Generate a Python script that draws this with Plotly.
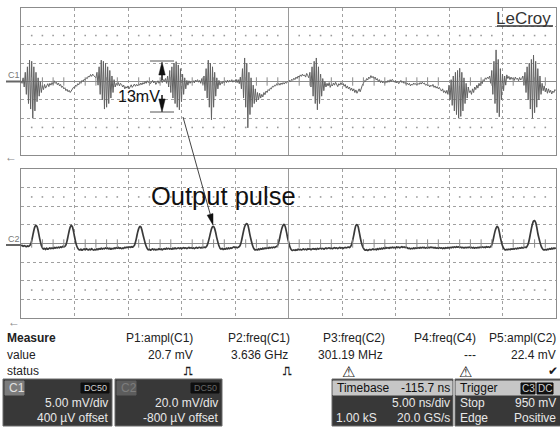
import plotly.graph_objects as go

# ---------------- data ----------------
SAMPLE_NS = 0.1  # display samples, 5 ns/div x 10 div

# C1 trace, mV (5 mV/div)
C1_MV = [
    0.2, -0.5, 1.0, -1.5, 2.5, -3.5, 4.0, -6.0, 5.8, -7.5,
    5.5, -10.0, 4.0, -8.0, 2.5, -5.5, 1.0, -4.0, 0.0, -3.0,
    -1.0, -2.2, -0.8, -1.8, -1.2, -0.6, -1.4, -0.5, -1.0, -0.3,
    -0.8, 0.2, -0.5, -0.2, -0.9, -0.4, -1.2, -0.8, -1.6, -1.3,
    -2.0, -1.7, -2.5, -2.1, -2.8, -2.4, -3.0, -2.6, -2.2, -1.6,
    -1.8, -1.0, -1.3, -0.6, -0.9, -0.2, -0.5, 0.3, 0.0, 0.6,
    0.4, 1.0, 0.8, 1.5, 1.2, 1.9, 1.4, 2.0, 1.6, 1.2,
    1.0, 2.5, -1.0, 4.0, -3.5, 5.8, -5.0, 5.5, -7.5, 5.0,
    -7.0, 4.0, -6.0, 3.0, -4.5, 1.5, -3.0, 0.5, -1.5, -0.5,
    -1.0, -0.3, -1.2, -0.5, -0.8, -1.5, -1.0, -2.0, -1.4, -1.8,
    -1.2, -2.0, -1.5, -0.9, -1.6, -1.1, -0.7, -1.3, -0.8, -1.2,
    -0.6, -1.0, -0.4, -0.9, -0.3, -0.7, 0.0, -0.5, 0.2, -0.3,
    0.0, -0.6, -0.2, 0.3, -0.4, 0.1, -0.8, -0.3, 0.2, -0.5,
    0.0, 0.4, -0.3, 0.5, 0.0, 0.8, -0.5, 1.5, -1.5, 3.0,
    -3.0, 4.0, -4.5, 5.0, -6.0, 5.4, -7.0, 4.5, -7.7, 3.5,
    -5.5, 2.0, -3.5, 1.0, -2.0, 0.3, -1.0, 0.2, -0.5, 0.0,
    -0.3, 0.2, -0.4, 0.4, 0.0, 0.5, -0.2, 0.3, -0.5, 0.8,
    -0.8, 1.5, -2.5, 3.5, -4.5, 5.8, -7.0, 5.0, -10.4, 4.0,
    -7.0, 2.5, -4.0, 1.0, -2.0, 0.3, -1.0, -0.2, -0.6, 0.1,
    -0.4, 0.2, -0.3, 0.4, -0.2, 0.3, 0.0, 0.5, -0.2, 0.3,
    0.0, 0.6, -0.3, 0.5, -0.6, 1.2, -2.0, 3.5, -4.5, 6.4,
    -7.0, 5.0, -12.6, 2.5, -9.0, 1.0, -7.0, -1.0, -6.0, -2.0,
    -5.5, -3.0, -5.0, -3.2, -4.5, -3.5, -4.2, -3.0, -3.6, -2.6,
    -3.0, -2.2, -2.5, -1.8, -2.0, -1.3, -1.5, -1.0, -1.2, -0.6,
    -0.9, -0.5, -1.0, -0.4, -0.8, -0.3, -0.7, -0.2, -0.5, 0.0,
    -0.3, 0.3, 0.0, 0.6, 0.3, 0.9, 0.5, 1.2, 0.8, 1.5,
    1.1, 1.8, 1.4, 2.0, 1.5, 1.8, 1.2, 2.2, 1.6, 1.0,
    2.5, -1.5, 4.0, -4.0, 5.5, -6.0, 6.4, -7.7, 4.0, -6.0,
    2.0, -4.0, 0.8, -2.5, 0.0, -1.5, -0.5, -1.2, -0.3, -1.6,
    -0.8, -1.2, -0.4, -1.0, -0.2, -0.8, -1.4, -0.6, -1.0, -0.3,
    -0.9, -0.5, -1.3, -0.8, -1.8, -1.2, -2.0, -1.5, -2.4, -1.8,
    -2.6, -2.0, -3.0, -2.3, -3.2, -2.6, -2.0, -2.8, -1.5, -1.0,
    -0.5, 0.2, 0.0, 0.8, 0.4, 1.2, 0.8, 1.6, 1.0, 1.4,
    0.8, 1.2, 0.4, 0.8, 0.0, 0.5, -0.3, 0.2, -0.4, 0.0,
    -0.5, 0.1, -0.3, 0.3, -0.2, 0.5, 0.0, 0.6, 0.2, -0.2,
    0.2, -0.4, 0.0, -0.6, -0.2, 0.3, -0.3, 0.0, -0.5, -0.2,
    -0.8, -0.4, -0.9, -0.5, -1.2, -0.7, -1.0, -0.4, -0.8, -0.6,
    -1.0, -0.5, -0.8, -0.3, -0.7, -0.2, -0.6, -0.4, -1.0, -0.8,
    -1.2, -0.9, -1.5, -1.0, -1.3, -0.8, -1.6, -1.2, -1.8, -1.4,
    -2.0, -1.6, -2.2, -2.6, -2.0, -3.0, -2.5, -3.2, -2.4, -3.5,
    -1.0, -5.0, 0.5, -6.5, 1.5, -8.0, 2.5, -9.0, 3.0, -10.0,
    3.6, -9.5, 2.5, -8.0, 1.0, -6.0, -0.5, -4.5, -1.5, -3.0,
    -2.5, -3.5, -2.0, -3.0, -1.5, -2.2, -1.0, -1.8, -0.5, -1.2,
    0.0, -0.6, 0.5, 0.2, 1.0, 0.6, 1.2, 0.8, 1.5, -0.5,
    3.0, -3.5, 5.5, -6.0, 8.6, -8.5, 6.0, -9.6, 3.5, -5.0,
    2.0, -2.5, 1.5, -1.0, 1.8, 0.8, 1.4, 0.5, 1.2, 0.6,
    1.0, 0.3, 1.2, 0.6, 0.9, 0.2, 1.1, 0.4, 0.8, 1.5,
    -1.0, 2.5, -3.0, 4.0, -5.0, 5.0, -7.5, 6.0, -10.0, 7.2,
    -8.5, 5.5, -7.0, 3.5, -5.0, 1.5, -3.5, -0.5, -2.5, -1.2,
    -2.8, -1.8, -3.2, -2.0, -3.0, -2.4, -3.4, -2.6, -3.0, -2.2,
    -2.5,
]

# C2 trace, mV (20 mV/div)
C2_MV = [
    -2.5, -2.0, -3.0, -2.2, -2.8, -3.5, -2.6, -3.2, -2.4, -1.0,
    3.0, 8.5, 14.0, 18.0, 19.4, 18.2, 14.0, 8.0, 2.5, -2.0,
    -4.5, -6.0, -5.2, -6.5, -5.0, -6.2, -5.5, -4.8, -5.6, -4.6,
    -5.4, -4.2, -5.0, -4.0, -4.8, -3.8, -4.6, -3.5, -4.2, -3.0,
    -3.6, -3.0, -1.5, 2.5, 8.0, 13.5, 17.5, 19.4, 18.0, 13.5,
    7.5, 2.0, -2.5, -5.0, -6.5, -7.0, -6.0, -7.2, -6.5, -5.8,
    -6.8, -5.5, -6.4, -7.0, -6.0, -6.8, -5.6, -6.6, -7.2, -6.2,
    -6.9, -5.8, -6.6, -5.4, -6.2, -5.0, -6.0, -5.2, -5.8, -4.6,
    -5.4, -4.8, -5.8, -5.0, -6.2, -5.2, -5.8, -4.8, -5.4, -4.4,
    -5.0, -4.2, -5.2, -4.6, -5.6, -4.8, -5.2, -4.0, -4.6, -3.8,
    -4.4, -3.6, -4.2, -3.4, -4.0, -3.2, -2.0, 1.5, 6.5, 12.0,
    16.0, 18.3, 17.8, 14.5, 9.5, 5.0, 0.5, -3.0, -5.5, -6.8,
    -6.0, -7.2, -6.4, -5.8, -6.8, -6.0, -7.0, -6.2, -6.6, -5.6,
    -6.4, -5.8, -6.8, -6.0, -5.4, -6.2, -5.0, -5.8, -5.2, -6.0,
    -5.4, -6.2, -5.0, -5.8, -4.8, -5.6, -5.2, -4.6, -5.4, -4.8,
    -5.6, -5.0, -4.4, -5.2, -4.6, -5.4, -4.8, -4.2, -5.0, -4.4,
    -5.2, -4.6, -5.4, -4.8, -4.2, -5.0, -4.4, -4.0, -4.8, -4.2,
    -4.6, -3.8, -4.4, -3.6, -2.0, 1.5, 6.0, 11.0, 15.5, 18.0,
    18.3, 16.0, 11.5, 6.0, 1.5, -2.5, -5.0, -6.0, -5.2, -6.4,
    -5.6, -6.2, -5.0, -5.8, -4.8, -5.6, -4.6, -5.2, -4.2, -3.6,
    -4.4, -3.8, -4.6, -4.0, -3.4, -1.5, 2.5, 8.0, 13.5, 18.0,
    20.5, 21.5, 20.0, 15.0, 9.0, 4.0, -0.5, -4.0, -6.0, -7.0,
    -6.2, -7.0, -5.8, -6.6, -5.4, -6.2, -5.0, -5.8, -4.8, -5.4,
    -4.6, -5.2, -4.2, -4.8, -4.0, -4.6, -3.8, -4.4, -3.6, -3.0,
    -1.5, 2.0, 7.0, 12.5, 17.0, 19.8, 20.4, 18.0, 13.0, 7.0,
    2.0, -2.5, -5.5, -7.0, -7.5, -6.8, -7.4, -6.6, -7.2, -6.0,
    -6.8, -6.2, -7.0, -6.4, -5.8, -6.6, -6.0, -6.8, -5.6, -6.2,
    -5.8, -6.6, -6.0, -5.4, -6.2, -5.6, -6.4, -5.2, -6.0, -5.4,
    -5.0, -5.8, -5.2, -6.0, -5.4, -4.8, -5.6, -5.0, -4.6, -5.4,
    -4.8, -5.6, -5.0, -4.4, -5.2, -4.6, -5.4, -4.8, -4.2, -5.0,
    -4.4, -5.2, -4.6, -4.0, -4.8, -4.2, -3.8, -4.4, -3.2, -1.0,
    3.5, 9.0, 15.0, 19.5, 20.4, 18.5, 13.0, 7.0, 1.5, -2.5,
    -5.0, -6.5, -7.2, -6.6, -7.4, -6.8, -6.2, -7.0, -6.4, -5.8,
    -6.6, -6.0, -6.8, -5.6, -6.4, -5.2, -6.0, -5.0, -5.8, -4.6,
    -5.4, -4.2, -5.0, -4.4, -5.2, -4.0, -4.8, -3.8, -4.6, -4.0,
    -4.8, -3.6, -4.4, -3.8, -4.6, -4.0, -3.4, -4.2, -3.6, -4.4,
    -3.8, -4.6, -5.4, -5.0, -5.8, -5.2, -5.6, -4.8, -5.4, -4.6,
    -5.2, -4.4, -5.0, -4.2, -4.8, -4.0, -4.6, -4.2, -5.0, -4.4,
    -4.8, -4.0, -4.6, -3.8, -4.4, -4.0, -4.8, -4.2, -5.0, -4.6,
    -5.2, -4.4, -5.0, -4.6, -5.4, -4.8, -5.2, -4.4, -5.0, -4.2,
    -4.8, -4.0, -4.6, -3.8, -4.4, -3.6, -4.2, -3.4, -4.0, -3.6,
    -4.4, -3.8, -4.6, -4.0, -4.8, -4.2, -4.6, -4.0, -4.4, -3.8,
    -4.6, -4.0, -4.8, -4.2, -5.0, -4.4, -4.8, -4.0, -4.6, -3.8,
    -4.4, -3.6, -4.2, -3.8, -4.4, -3.4, -4.0, -3.6, -4.2, -3.2,
    -1.5, 2.5, 8.0, 13.0, 16.5, 18.3, 17.0, 12.5, 6.5, 1.5,
    -2.5, -5.0, -6.5, -7.0, -6.2, -6.8, -6.0, -6.6, -5.8, -6.2,
    -5.6, -6.0, -5.2, -5.8, -5.0, -5.4, -4.6, -5.0, -4.2, -4.8,
    -4.4, -3.8, -4.4, -3.0, -0.5, 4.0, 10.0, 16.0, 21.0, 24.0,
    24.7, 22.5, 17.5, 11.0, 6.0, 1.5, -2.5, -5.0, -6.5, -7.0,
    -6.2, -7.0, -6.0, -6.6, -5.4, -6.2, -5.0, -5.8, -4.8, -5.4,
    -4.6,
]

T_NS = [round(i * SAMPLE_NS, 2) for i in range(len(C1_MV))]
T2_NS = [round(i * SAMPLE_NS, 2) for i in range(len(C2_MV))]

MEAS_LABELS = ["P1:ampl(C1)", "P2:freq(C1)", "P3:freq(C2)", "P4:freq(C4)", "P5:ampl(C2)"]
MEAS_VALUES = ["20.7 mV", "3.636 GHz", "301.19 MHz", "---", "22.4 mV"]
MEAS_STATUS = ["⎍", "⎍", "⚠", "⚠", "✔"]

CH_NAMES = ["C1", "C2"]
CH_VDIV = ["5.00 mV/div", "20.0 mV/div"]
CH_OFFSET = ["400 µV offset", "-800 µV offset"]

# ---------------- layout helpers ----------------
W, H = 560, 427
FONT = "Liberation Sans, Arial, sans-serif"


def X(px):
    return px / W


def Y(py):
    return 1 - py / H


fig = go.Figure()

fig.add_trace(go.Scatter(x=T_NS, y=C1_MV, mode="lines",
                         line=dict(color="#626262", width=1),
                         xaxis="x", yaxis="y", hoverinfo="skip", showlegend=False))
fig.add_trace(go.Scatter(x=T2_NS, y=C2_MV, mode="lines",
                         line=dict(color="#3a3a3a", width=1.7, shape="spline", smoothing=0.6),
                         xaxis="x2", yaxis="y2", hoverinfo="skip", showlegend=False))

# center-axis minor ticks and sparse dot rows (graticule decoration)
minor = [i for i in range(1, 50) if i % 5]
for xa, ya, half in (("x", "y", 12.5), ("x2", "y2", 50)):
    fig.add_trace(go.Scatter(x=minor, y=[0] * len(minor), mode="markers",
                             marker=dict(symbol="line-ns", size=6, color="#8a8a8a",
                                         line=dict(color="#8a8a8a", width=1)),
                             xaxis=xa, yaxis=ya, hoverinfo="skip", showlegend=False))
    for yy in (half, -half):
        fig.add_trace(go.Scatter(x=minor, y=[yy] * len(minor), mode="markers",
                                 marker=dict(symbol="square", size=1.6, color="#9a9a9a"),
                                 xaxis=xa, yaxis=ya, hoverinfo="skip", showlegend=False))

xcommon = dict(range=[0, 50], dtick=5, tick0=0, showgrid=True, gridcolor="#a0a0a0",
               griddash="dot", gridwidth=1, showticklabels=False, ticks="",
               showline=True, mirror=True, linecolor="#8c8c8c", linewidth=1,
               zeroline=False, fixedrange=True, domain=[X(21), X(556)])
ycommon = dict(showgrid=True, gridcolor="#a0a0a0", griddash="dot", gridwidth=1,
               showticklabels=False, ticks="", showline=True, mirror=True,
               linecolor="#8c8c8c", linewidth=1, zeroline=True,
               zerolinecolor="#8c8c8c", zerolinewidth=1, fixedrange=True)

fig.update_layout(
    width=W, height=H, margin=dict(l=0, r=0, t=0, b=0),
    paper_bgcolor="white", plot_bgcolor="white", showlegend=False,
    font=dict(family=FONT, size=12, color="#222"),
    xaxis=dict(**xcommon, anchor="y"),
    xaxis2=dict(**xcommon, anchor="y2"),
    yaxis=dict(**ycommon, range=[-20, 20], dtick=5, domain=[Y(155), Y(8)], anchor="x"),
    yaxis2=dict(**ycommon, range=[-80, 80], dtick=20, domain=[Y(318), Y(169)], anchor="x2"),
)

shapes = []
ann = []


def line_px(x0, y0, x1, y1, color="#333", width=1):
    shapes.append(dict(type="line", xref="paper", yref="paper",
                       x0=X(x0), y0=Y(y0), x1=X(x1), y1=Y(y1),
                       line=dict(color=color, width=width)))


def tri_px(pts, color="#111"):
    p = "M " + " L ".join(f"{X(a):.5f},{Y(b):.5f}" for a, b in pts) + " Z"
    shapes.append(dict(type="path", xref="paper", yref="paper", path=p,
                       fillcolor=color, line=dict(color=color, width=0.5)))


def rect_px(x0, y0, x1, y1, fill, line=None):
    shapes.append(dict(type="rect", xref="paper", yref="paper",
                       x0=X(x0), y0=Y(y0), x1=X(x1), y1=Y(y1), fillcolor=fill,
                       line=dict(color=line or fill, width=1), layer="above"))


def text_px(x, y, s, anchor="left", size=12, color="#222", bold=False):
    ann.append(dict(xref="paper", yref="paper", x=X(x), y=Y(y), text=(f"<b>{s}</b>" if bold else s),
                    showarrow=False, xanchor=anchor, yanchor="middle",
                    font=dict(family=FONT, size=size, color=color)))


# solid vertical center lines
for ya in ("y", "y2"):
    shapes.append(dict(type="line", xref="x" if ya == "y" else "x2", yref=ya + " domain",
                       x0=25, x1=25, y0=0, y1=1, line=dict(color="#9a9a9a", width=1)))

# channel markers
text_px(6, 75, "C1", size=9, color="#777")
line_px(6, 81.5, 21, 81.5, color="#666", width=2)
text_px(6, 239, "C2", size=9, color="#777")
line_px(6, 245, 21, 245, color="#666", width=2)
text_px(3, 157, "←", size=12, color="#888")
text_px(6, 322, "←", size=12, color="#888")

# LeCroy logo
text_px(553, 18, "LeCroy", anchor="right", size=17, color="#333")
line_px(497, 26, 553, 26, color="#333", width=1.5)

# 13mV marker
line_px(150, 61, 174, 61, color="#555", width=1)
line_px(150, 112, 174, 112, color="#555", width=1)
line_px(162, 70, 162, 80, color="#111", width=1.5)
tri_px([(162, 62), (158.8, 75), (165.2, 75)])
line_px(162, 95, 162, 102, color="#111", width=1.5)
tri_px([(162, 112), (158.8, 99), (165.2, 99)])
text_px(116, 96, "13mV", size=16, color="#111")

# Output pulse pointer
line_px(183, 117, 210.3, 214.5, color="#444", width=1)
tri_px([(213, 225), (207.2, 215.2), (213.0, 213.6)])
text_px(149, 196, "Output pulse", size=25.5, color="#111")

# measurement table
text_px(5, 338, "Measure", bold=True)
text_px(5, 355, "value")
text_px(5, 371, "status")
head_right = [195, 292, 387, 478, 558]
val_right = [195, 290, 385, 478, 558]
for i, lab in enumerate(MEAS_LABELS):
    text_px(head_right[i], 338, lab, anchor="right")
    text_px(val_right[i], 355, MEAS_VALUES[i], anchor="right")
status_x = [188, 287, 348, 465, 553]
for i, s in enumerate(MEAS_STATUS):
    text_px(status_x[i], 371, s, anchor="center", size=15 if s == "⚠" else 12,
            color="#1a1a1a", bold=(s == "⎍"))

# channel boxes
box_x = [(3, 112), (115, 222)]
for i, (x0, x1) in enumerate(box_x):
    rect_px(x0, 379, x1, 426, "#383838", "#6a6a6a")
    dim = i == 1
    rect_px(x0 + 2, 381, x0 + 21, 395, "#5c5c5c" if dim else "#7c7c7c")
    text_px(x0 + 4, 388, CH_NAMES[i], size=12, color="#7d7d7d" if dim else "#e0e0e0")
    rect_px(x1 - 31, 383, x1 - 3, 393, "#0e0e0e")
    text_px(x1 - 17, 388, "DC50", anchor="center", size=9, color="#666" if dim else "#d0d0d0")
    text_px(x1 - 2, 403, CH_VDIV[i], anchor="right", color="#e8e8e8")
    text_px(x1 - 2, 418, CH_OFFSET[i], anchor="right", color="#e8e8e8")

# timebase box
rect_px(332, 379, 453, 426, "#383838", "#6a6a6a")
rect_px(333, 381, 452, 395, "#c6c6c6")
text_px(335, 388, "Timebase", color="#111")
text_px(452, 388, "-115.7 ns", anchor="right", color="#111")
text_px(452, 403, "5.00 ns/div", anchor="right", color="#e8e8e8")
text_px(334, 418, "1.00 kS", color="#e8e8e8")
text_px(452, 418, "20.0 GS/s", anchor="right", color="#e8e8e8")

# trigger box
rect_px(455, 379, 563, 426, "#383838", "#6a6a6a")
rect_px(456, 381, 562, 395, "#c6c6c6")
text_px(458, 388, "Trigger", color="#111")
rect_px(521, 383, 535, 394, "#111")
text_px(528, 388.5, "C3", anchor="center", size=10, color="#d0d0d0")
rect_px(537, 383, 553, 394, "#111")
text_px(545, 388.5, "DC", anchor="center", size=10, color="#d0d0d0")
text_px(458, 403, "Stop", color="#e8e8e8")
text_px(558, 403, "950 mV", anchor="right", color="#e8e8e8")
text_px(458, 418, "Edge", color="#e8e8e8")
text_px(558, 418, "Positive", anchor="right", color="#e8e8e8")

fig.update_layout(shapes=shapes, annotations=ann)
fig.write_html("out.html")
